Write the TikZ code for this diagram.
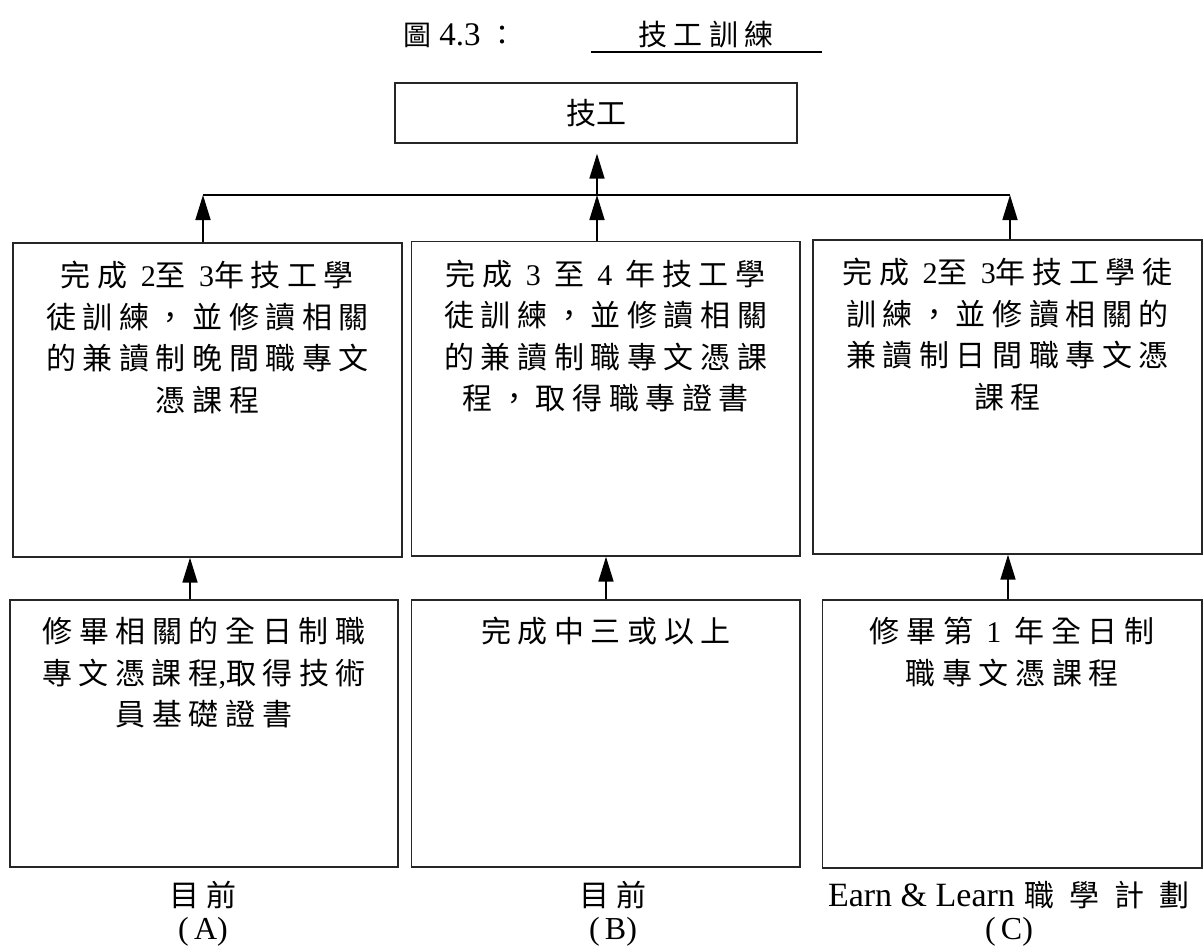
\documentclass[tikz,border=0pt]{standalone}
\usepackage{fontspec}
\setmainfont{Liberation Serif}
\newfontfamily\cjk[LetterSpace=22]{Noto Sans CJK TC}
\newfontfamily\cjkn{Noto Sans CJK TC}
\newfontfamily\lat[LetterSpace=22]{Liberation Serif}
\newcommand\dg[1]{{\lat #1}}
\newcommand\cg{\hspace{15pt}}
\usetikzlibrary{arrows.meta}
\tikzset{
  box/.style={draw=black!85, line width=1.4pt, inner sep=0pt},
  boxtext/.style={anchor=north, inner sep=0pt, align=center, font=\cjk\fontsize{30}{41.5}\selectfont},
  lbl/.style={inner sep=0pt, align=center, font=\fontsize{34}{38}\selectfont},
  plbl/.style={inner sep=0pt, align=center, font=\fontsize{32}{36}\selectfont},
  arr/.style={line width=1.7pt, -{Triangle[length=25pt,width=15pt]}},
  conn/.style={line width=1.4pt}
}
\begin{document}
\begin{tikzpicture}[x=1pt,y=-1pt]
\useasboundingbox (0,0) rectangle (1203,951);
% title
\node[inner sep=0pt, anchor=base west, font=\fontsize{33}{38}\selectfont] (ttl) at (403,45) {{\cjkn\fontsize{28}{34}\selectfont 圖} 4.3 {\cjkn\fontsize{28}{34}\selectfont ：}};
\node[inner sep=0pt, anchor=base, font=\cjk\fontsize{29}{34}\selectfont] (ttlb) at (706,45) {技工訓練};
\node[inner sep=0pt, minimum width=231pt, minimum height=0pt] (ul) at (706.5,52) {};
\draw[line width=2pt] (ul.west) -- (ul.east);
% top box
\node[box, minimum width=402pt, minimum height=60pt, font=\cjkn\fontsize{30}{36}\selectfont] (top) at (596,113) {技工};
% upper boxes
\node[box, minimum width=389pt, minimum height=314pt] (u1) at (207.5,400) {};
\node[box, minimum width=388.5pt, minimum height=314.5pt] (u2) at (605.75,398.75) {};
\node[box, minimum width=389pt, minimum height=314pt] (u3) at (1007.5,397) {};
% lower boxes
\node[box, minimum width=388pt, minimum height=267pt] (l1) at (204,733.5) {};
\node[box, minimum width=388.5pt, minimum height=267pt] (l2) at (605.85,733.5) {};
\node[box, minimum width=379.5pt, minimum height=268pt] (l3) at (1012.25,734) {};
% texts
\node[boxtext] (u1t) at ([yshift=-19pt]u1.north) {完成 \dg{2}至 \dg{3}年技工學\\徒訓練，並修讀相關\\的兼讀制晚間職專文\\憑課程};
\node[boxtext] (u2t) at ([yshift=-19pt]u2.north) {完成 \dg{3} 至 \dg{4} 年技工學\\徒訓練，並修讀相關\\的兼讀制職專文憑課\\程，取得職專證書};
\node[boxtext] (u3t) at ([yshift=-19pt]u3.north) {完成 \dg{2}至 \dg{3}年技工學徒\\訓練，並修讀相關的\\兼讀制日間職專文憑\\課程};
\node[boxtext] (l1t) at ([yshift=-18pt]l1.north) {修畢相關的全日制職\\專文憑課程{\lat ,}取得技術\\員基礎證書};
\node[boxtext] (l2t) at ([yshift=-18pt]l2.north) {完成中三或以上};
\node[boxtext] (l3t) at ([yshift=-18pt]l3.north) {修畢第 \dg{1} 年全日制\\職專文憑課程};
% bottom labels
\node[lbl] (la) at (203,895) {{\cjkn\fontsize{30}{36}\selectfont 目 前}};
\node[lbl] (lb) at (613,895) {{\cjkn\fontsize{30}{36}\selectfont 目 前}};
\node[lbl] (lc) at (1009,895) {Earn \& Learn\hspace{10pt}{\cjkn\fontsize{30}{36}\selectfont 職\cg 學\cg 計\cg 劃}};
\node[plbl] (pa) at (203,932) {(\,A)};
\node[plbl] (pb) at (613,932) {(\,B)};
\node[plbl] (pc) at (1009,932) {(\,C)};
% connectors
\coordinate (jl) at (203,195);
\coordinate (jm) at (597,195);
\coordinate (jr) at (1010,195);
\coordinate (al) at (190,0);
\coordinate (am) at (606,0);
\coordinate (ar) at (1008,0);
\draw[conn] (jl) -- (jr);
\draw[arr] (u1.north -| jl) -- (jl);
\draw[arr] (u2.north -| jm) -- (jm);
\draw[arr] (u3.north -| jr) -- (jr);
\draw[arr, shorten >=10pt] (jm) -- (top.south -| jm);
\draw[arr] (l1.north -| al) -- (u1.south -| al);
\draw[arr] (l2.north -| am) -- (u2.south -| am);
\draw[arr] (l3.north -| ar) -- (u3.south -| ar);
\end{tikzpicture}
\end{document}
